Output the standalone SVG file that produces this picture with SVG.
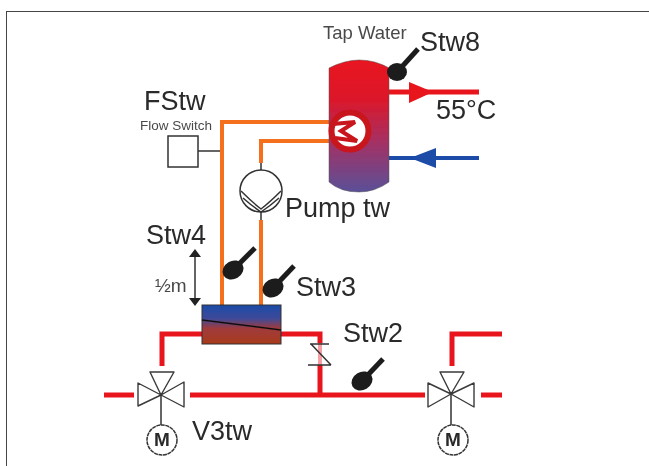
<svg xmlns="http://www.w3.org/2000/svg" width="649" height="466" viewBox="0 0 649 466">
<style>
text{font-family:"Liberation Sans",Arial,sans-serif;fill:#2a2a2a}
.l{font-size:27px}
.s{font-size:18.5px;fill:#4a4a4a}
.o{fill:none;stroke:#f4701a;stroke-width:4}
.r{fill:none;stroke:#e8141f;stroke-width:5}
.t{fill:#fff;stroke:#3a3a3a;stroke-width:1.4;stroke-linejoin:round}
.k{fill:none;stroke:#333;stroke-width:1.5}
.st{stroke:#1c1c1c;stroke-width:5;fill:none}
.b{fill:#1c1c1c}
.m{fill:#fff;stroke:#333;stroke-width:1.5;stroke-dasharray:4 .6}
.mt{font-size:19px;font-weight:bold;text-anchor:middle}
</style>
<defs>
<linearGradient id="tank" x1="0" y1="0" x2="0" y2="1"><stop offset="0" stop-color="#e8141f"/><stop offset=".3" stop-color="#dc182a"/><stop offset=".6" stop-color="#a82f60"/><stop offset="1" stop-color="#5a5098"/></linearGradient>
<linearGradient id="hx" x1="0" y1="0" x2="0" y2="1"><stop offset="0" stop-color="#1a4ba8"/><stop offset=".35" stop-color="#3f4a98"/><stop offset=".6" stop-color="#a03a3c"/><stop offset="1" stop-color="#a83a1c"/></linearGradient>
<filter id="b" x="0" y="0" width="100%" height="100%"><feGaussianBlur stdDeviation=".55"/></filter>
</defs>
<g filter="url(#b)">
<path d="M6 466V11H649" fill="none" stroke="#444" stroke-width="2"/>
<g id="connectors">
<path class="o" d="M222 305V122H330"/>
<path class="o" d="M261 163V141H330"/>
<path class="k" d="M261 163V171M261 212V220"/>
<path class="o" d="M261 220V305"/>
<path class="r" d="M202 334H162V366"/>
<path class="r" d="M281 334H320V343"/>
<path d="M320 343V365" fill="none" stroke="#f5a0a4" stroke-width="4"/>
<path class="r" d="M320 365V395"/>
<path class="r" d="M104 395H134"/>
<path class="r" d="M190 395H425"/>
<path class="r" d="M481 395H502"/>
<path class="r" d="M452 366V334H502"/>
<path class="r" d="M389 92H479"/>
<path d="M409 82L433 92L409 103Z" fill="#e8141f"/>
<path d="M389 158H479" fill="none" stroke="#1a4ba8" stroke-width="4"/>
<path d="M436 148L410 158L436 168Z" fill="#1a4ba8"/>
<path class="k" d="M198 151H220"/>
<path class="k" d="M195 254V301"/>
<path d="M189 257L195 249L201 257Z M189 298L195 306L201 298Z" fill="#222"/>
</g>
<g id="tank-node">
<path d="M329 68Q345 60 359 60Q375 60 389 68V182Q375 192 359 192Q340 192 329 182Z" fill="url(#tank)" stroke="#555" stroke-opacity=".5" stroke-width="1"/>
<circle cx="350" cy="131" r="18.5" fill="#fff" stroke="#c8141f" stroke-width="6"/>
<path d="M333 124L355 122L341 131L357 141L335 138" fill="none" stroke="#c8141f" stroke-width="4"/>
<text x="323" y="39" class="s">Tap Water</text>
</g>
<g id="stw8"><ellipse class="b" cx="397" cy="72" rx="10" ry="9"/><path class="st" d="M399 70L418 49"/><text x="420" y="51" class="l">Stw8</text></g>
<text x="436" y="119" class="l">55°C</text>
<g id="fstw"><rect x="168" y="136" width="30" height="31" fill="#fff" stroke="#333" stroke-width="1.5"/><text x="140" y="130" style="font-size:13.5px;fill:#4a4a4a">Flow Switch</text><text x="144" y="110" class="l">FStw</text></g>
<g id="pump"><circle cx="261" cy="191" r="21" fill="#fff" stroke="#333" stroke-width="1.5"/><path class="k" d="M243 198Q252 206 261 212Q270 206 279 198M241 191Q252 202 261 209Q270 202 281 191"/><text x="285" y="217" class="l">Pump tw</text></g>
<g id="stw4"><ellipse class="b" cx="233" cy="270" rx="11" ry="9" transform="rotate(-30 233 270)"/><path class="st" d="M235 268L255 248"/><text x="146" y="244" class="l">Stw4</text><text x="155" y="292" style="font-size:19px;fill:#4a4a4a">½m</text></g>
<g id="stw3"><ellipse class="b" cx="273" cy="288" rx="11" ry="9" transform="rotate(-30 273 288)"/><path class="st" d="M275 286L294 266"/><text x="296" y="296" class="l">Stw3</text></g>
<g id="exchanger"><rect x="202" y="305" width="79" height="39" fill="url(#hx)" stroke="#333" stroke-width="1"/><path d="M202 320L281 330" stroke="#111" stroke-width="1.5"/></g>
<g id="check"><path class="k" d="M310 344H329M308 365H331M311 344L331 365"/></g>
<g id="stw2"><ellipse class="b" cx="362" cy="381" rx="11" ry="9" transform="rotate(-30 362 381)"/><path class="st" d="M364 379L383 359"/><text x="343" y="342" class="l">Stw2</text></g>
<g id="v3tw"><path class="t" d="M150 372H174L161 395ZM138 383V406L161 395ZM184 382V407L161 395Z"/><path class="k" d="M161 395V425"/><circle class="m" cx="162" cy="440" r="15"/><text x="162" y="446" class="mt">M</text><text x="192" y="440" class="l">V3tw</text></g>
<g id="v3b"><path class="t" d="M440 372H464L451 394ZM428 383V407L451 394ZM474 383V407L451 394Z"/><path class="k" d="M451 394V425"/><circle class="m" cx="453" cy="440" r="15"/><text x="453" y="446" class="mt">M</text></g>
</g>
</svg>
